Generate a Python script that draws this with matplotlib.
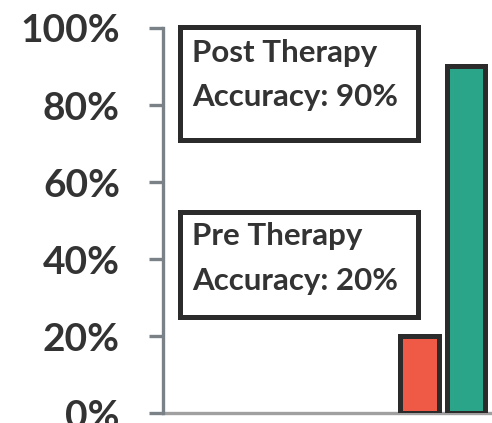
import matplotlib.pyplot as plt
from matplotlib.patches import Rectangle

# data
groups = ["Pre Therapy", "Post Therapy"]
accuracy = [0.20, 0.90]
bar_colors = ["#ee5a45", "#2aa58a"]
yticks = [0, 0.2, 0.4, 0.6, 0.8, 1.0]
ytick_labels = ["0%", "20%", "40%", "60%", "80%", "100%"]
notes = ["Pre Therapy\nAccuracy: 20%", "Post Therapy\nAccuracy: 90%"]

plt.rcParams['font.family'] = ['Lato', 'DejaVu Sans']

fig = plt.figure(figsize=(4.92, 4.23), dpi=100)
ax = fig.add_axes([163 / 492, 10 / 423, 329 / 492, 385 / 423])

xs = list(range(len(groups)))
ax.bar(xs, accuracy, width=0.82, color=bar_colors, edgecolor="#2b2b2b",
       linewidth=3.6, zorder=3)

ax.set_xlim(-5.52, 1.56)
ax.set_ylim(0, 1)
ax.set_yticks(yticks)
ax.set_yticklabels(ytick_labels, fontsize=28, fontweight="bold", color="#333333")
ax.set_xticks([])
ax.tick_params(axis="y", length=10, width=2.4, color="#7a8288", pad=21)

for side in ["top", "right"]:
    ax.spines[side].set_visible(False)
ax.spines["left"].set_color("#7a8288")
ax.spines["left"].set_linewidth(2.4)
ax.spines["bottom"].set_color("#a0a0a0")
ax.spines["bottom"].set_linewidth(2.4)
ax.spines["left"].set_zorder(4)

# annotation boxes (axes fraction): y0, y1, baseline line 1, baseline line 2
box_specs = [(0.249, 0.522, 0.436, 0.319), (0.709, 1.0026, 0.912, 0.797)]
for (y0, y1, b1, b2), note in zip(box_specs, notes):
    ax.add_patch(Rectangle((0.0517, y0), 0.775 - 0.0517, y1 - y0, transform=ax.transAxes,
                           fill=False, edgecolor="#2b2b2b", linewidth=3.6,
                           clip_on=False, zorder=5))
    line1, line2 = note.split("\n")
    ax.text(0.088, b1, line1, transform=ax.transAxes, fontsize=22.5, fontweight="bold",
            color="#333333", va="baseline", ha="left")
    ax.text(0.088, b2, line2, transform=ax.transAxes, fontsize=22.5, fontweight="bold",
            color="#333333", va="baseline", ha="left")

fig.savefig("out.png", dpi=100)
